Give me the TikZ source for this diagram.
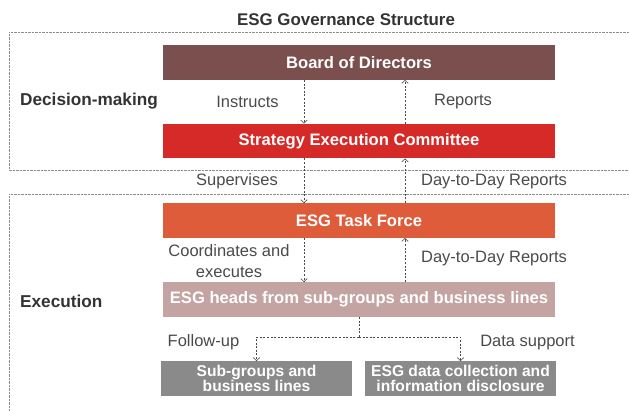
\documentclass[tikz,border=0pt]{standalone}
\usepackage{fontspec}
\setmainfont{Liberation Sans}
\usetikzlibrary{arrows.meta}
\definecolor{boardbrown}{HTML}{7A4F4E}
\definecolor{secred}{HTML}{D52A27}
\definecolor{taskorange}{HTML}{DF5C3B}
\definecolor{headpink}{HTML}{C4A3A3}
\definecolor{unitgray}{HTML}{8A8A8A}
\definecolor{labelgray}{HTML}{4A4A4A}
\begin{document}
\begin{tikzpicture}[x=1pt,y=1pt]
		\tikzstyle{box}=[fill=#1, text=white, minimum width=392pt, minimum height=34.5pt, inner sep=0pt, align=center, font=\fontsize{16.6}{16.6}\selectfont\bfseries]
		\tikzstyle{unit}=[box=unitgray, minimum width=191pt, font=\fontsize{15.6}{14.3}\selectfont\bfseries]
		\tikzstyle{lbl}=[text=labelgray, inner sep=0pt, align=center, font=\fontsize{16.5}{20.5}\selectfont]
		\tikzstyle{side}=[text=black!80, inner sep=0pt, anchor=west, font=\fontsize{17.2}{17.2}\selectfont\bfseries]
		\tikzstyle{flow}=[draw=labelgray, line width=0.6pt, dash pattern=on 2pt off 1.6pt, -{Straight Barb[length=3pt,width=6.5pt]}]
		\tikzstyle{zone}=[draw=black!45, line width=0.5pt, dash pattern=on 0.7pt off 0.7pt]
		\useasboundingbox (0,0) rectangle (629,-410);
		\clip (0,0) rectangle (629,-410);
		\draw[zone] (640,-32) -- (9,-32) -- (9,-170) -- (640,-170);
		\draw[zone] (640,-194) -- (9,-194) -- (9,-420);
		\node[text=black!80, inner sep=0pt, font=\fontsize{16.9}{16.9}\selectfont\bfseries] (title) at (346,-20) {ESG Governance Structure};
		\node[side] (decision) at (20,-101.5) {Decision-making};
		\node[side] (execution) at (20,-301) {Execution};
		\node[box=boardbrown] (board) at (359,-62.5) {Board of Directors};
		\node[box=secred] (sec) at (359,-141) {Strategy Execution Committee};
		\node[box=taskorange] (task) at (359,-220.5) {ESG Task Force};
		\node[box=headpink] (heads) at (359,-299.5) {ESG heads from sub-groups and business lines};
		\node[unit] (sub) at (256.5,-378.5) {Sub-groups and\\business lines};
		\node[unit] (data) at (460.5,-378.5) {ESG data collection and\\information disclosure};
		\coordinate (down) at (304,0);
		\coordinate (up) at (405,0);
		\coordinate (fork) at (359,-337);
		\draw[flow] (board.south -| down) -- (sec.north -| down);
		\draw[flow] (sec.north -| up) -- (board.south -| up);
		\draw[flow] (sec.south -| down) -- (task.north -| down);
		\draw[flow] (task.north -| up) -- (sec.south -| up);
		\draw[flow] (task.south -| down) -- (heads.north -| down);
		\draw[flow] (heads.north -| up) -- (task.south -| up);
		\draw[flow, -] (heads.south) -- (fork);
		\draw[flow] (fork) -| (sub.north);
		\draw[flow] (fork) -| (data.north);
		\node[lbl] (instructs) at (247.5,-101.5) {Instructs};
		\node[lbl] (reports) at (463,-101.5) {Reports};
		\node[lbl] (supervises) at (237,-181.5) {Supervises};
		\node[lbl] (daily1) at (494,-181.5) {Day-to-Day Reports};
		\node[lbl] (coordinates) at (229,-261) {Coordinates and\\executes};
		\node[lbl] (daily2) at (494,-259) {Day-to-Day Reports};
		\node[lbl] (followup) at (203.5,-342.5) {Follow-up};
		\node[lbl] (support) at (527.5,-342.5) {Data support};
	\end{tikzpicture}
\end{document}
